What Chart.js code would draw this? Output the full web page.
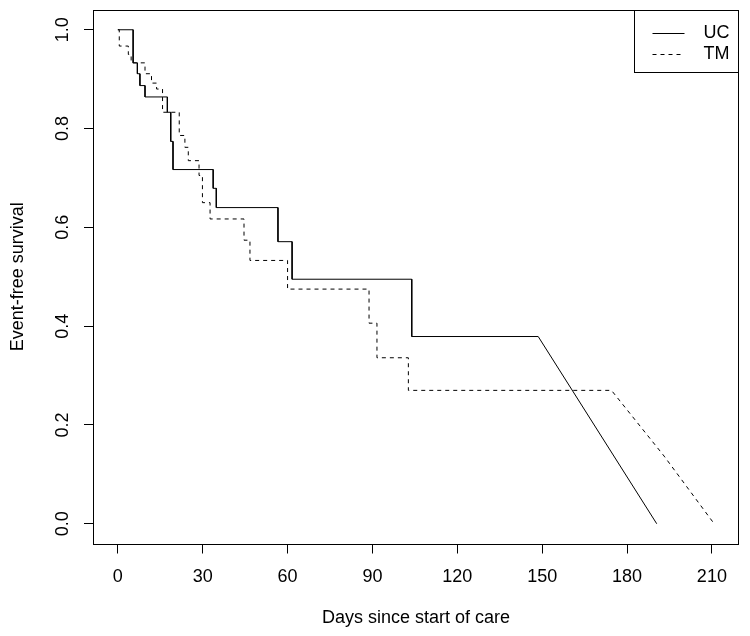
<!DOCTYPE html>
<html>
<head>
<meta charset="utf-8">
<title>Event-free survival</title>
<script src="https://cdn.jsdelivr.net/npm/chart.js@4.4.1/dist/chart.umd.min.js"></script>
<style>
  html, body { margin: 0; padding: 0; background: #fff; }
  canvas { display: block; }
</style>
</head>
<body>
<canvas id="chart" width="750" height="636"></canvas>
<script>
// Kaplan-Meier style step data
const ucTimes = [5.4, 6.9, 7.8, 9.6, 17.5, 18.7, 19.5, 33.7, 34.8, 56.6, 61.6, 103.9];
const ucSurv = [0.933, 0.911, 0.887, 0.864, 0.833, 0.774, 0.717, 0.679, 0.640, 0.571, 0.495, 0.379];
// last part of each curve is drawn as straight segments
const ucTailTimes = [148.6, 190.5];
const ucTailSurv = [0.379, 0];

const tmTimes = [0.5, 3.7, 4.7, 9.6, 11.9, 13.7, 15.8, 21.7, 23.7, 24.9, 28.7, 29.9, 32.6, 44.6, 46.7, 60.0, 88.8, 91.6, 102.7];
const tmSurv = [0.967, 0.950, 0.933, 0.911, 0.892, 0.880, 0.833, 0.786, 0.762, 0.735, 0.705, 0.650, 0.617, 0.574, 0.533, 0.475, 0.406, 0.336, 0.270];
const tmTailTimes = [174.5, 193.1, 210.8];
const tmTailSurv = [0.270, 0.137, 0];

const xTicks = [0, 30, 60, 90, 120, 150, 180, 210];
const yTicks = [0, 0.2, 0.4, 0.6, 0.8, 1.0];

const stepPoints = (times, surv, tailT, tailS) => {
  const pts = [{ x: 0, y: 1 }];
  let prev = 1;
  times.forEach((t, i) => {
    pts.push({ x: t, y: prev });
    pts.push({ x: t, y: surv[i] });
    prev = surv[i];
  });
  tailT.forEach((t, i) => pts.push({ x: t, y: tailS[i] }));
  return pts;
};

// R style axis range: data range stretched by 4% each side
const xMaxData = Math.max(...ucTailTimes, ...tmTailTimes);
const xMin = -0.04 * xMaxData;
const xMax = xMaxData * 1.04;
const yMin = -0.04;
const yMax = 1.04;

Chart.defaults.font.family = '"Liberation Sans", Arial, Helvetica, sans-serif';
Chart.defaults.font.size = 18;
Chart.defaults.color = '#000';

const frame = {
  id: 'frame',
  afterDraw(chart) {
    const { ctx, chartArea: a } = chart;
    ctx.save();
    ctx.strokeStyle = '#000';
    ctx.lineWidth = 1;
    ctx.strokeRect(Math.round(a.left) - 0.5, Math.round(a.top) + 0.5,
      Math.round(a.right - a.left) + 1, Math.round(a.bottom - a.top));
    ctx.restore();
  }
};

const legendBox = {
  id: 'legendBox',
  afterDraw(chart) {
    const { ctx, chartArea: a } = chart;
    const w = 104, h = 62;
    const x0 = Math.round(a.right) - w + 0.5;
    const y0 = Math.round(a.top) + 0.5;
    ctx.save();
    ctx.strokeStyle = '#000';
    ctx.lineWidth = 1;
    ctx.strokeRect(x0, y0, w, h);
    ctx.font = '18px "Liberation Sans", Arial, sans-serif';
    ctx.fillStyle = '#000';
    ctx.textBaseline = 'middle';
    chart.data.datasets.forEach((ds, i) => {
      const y = Math.round(y0 + 22 + i * 21) + 0.5;
      ctx.setLineDash(ds.borderDash || []);
      ctx.beginPath();
      ctx.moveTo(x0 + 18, y);
      ctx.lineTo(x0 + 50, y);
      ctx.stroke();
      ctx.setLineDash([]);
      ctx.fillText(ds.label, x0 + 69, y);
    });
    ctx.restore();
  }
};

const noEdgePadding = s => {
  s.paddingTop = 0;
  s.paddingBottom = 0;
  s.paddingLeft = 0;
  s.paddingRight = 0;
};

new Chart(document.getElementById('chart'), {
  type: 'line',
  data: {
    datasets: [
      {
        label: 'UC',
        data: stepPoints(ucTimes, ucSurv, ucTailTimes, ucTailSurv),
        borderColor: '#000',
        borderWidth: 1,
        pointRadius: 0,
        tension: 0
      },
      {
        label: 'TM',
        data: stepPoints(tmTimes, tmSurv, tmTailTimes, tmTailSurv),
        borderColor: '#000',
        borderWidth: 1,
        borderDash: [4, 4],
        pointRadius: 0,
        tension: 0
      }
    ]
  },
  options: {
    responsive: false,
    devicePixelRatio: 1,
    animation: false,
    layout: { padding: { top: 10, right: 12, left: 0, bottom: 0 } },
    plugins: {
      legend: { display: false },
      tooltip: { enabled: false }
    },
    scales: {
      x: {
        type: 'linear',
        min: xMin,
        max: xMax,
        afterBuildTicks: s => { s.ticks = xTicks.map(v => ({ value: v })); },
        afterFit: s => { s.height = 92.5; noEdgePadding(s); },
        ticks: { padding: 13, maxRotation: 0, autoSkip: false, callback: v => String(v) },
        grid: { drawOnChartArea: false, drawTicks: true, tickLength: 10, color: '#000', lineWidth: 1 },
        border: { display: false },
        title: { display: true, text: 'Days since start of care', padding: { top: 0, bottom: 7 } }
      },
      y: {
        type: 'linear',
        min: yMin,
        max: yMax,
        afterBuildTicks: s => { s.ticks = yTicks.map(v => ({ value: v })); },
        afterFit: s => { s.width = 94; noEdgePadding(s); },
        ticks: { padding: 8.5, minRotation: 90, maxRotation: 90, crossAlign: 'center', autoSkip: false, callback: v => v.toFixed(1) },
        grid: { drawOnChartArea: false, drawTicks: true, tickLength: 10, color: '#000', lineWidth: 1 },
        border: { display: false },
        title: { display: true, text: 'Event-free survival', padding: { top: 7, bottom: 0 } }
      }
    }
  },
  plugins: [frame, legendBox]
});
</script>
</body>
</html>
